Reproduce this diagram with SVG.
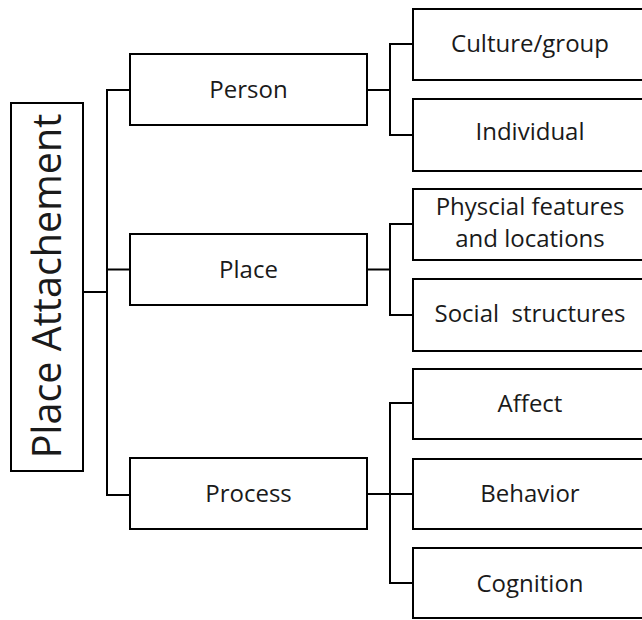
<svg xmlns="http://www.w3.org/2000/svg" width="642" height="620" viewBox="0 0 642 620">
  <style>
    .box { fill: #ffffff; stroke: #000000; stroke-width: 2; }
    .wire { fill: none; stroke: #000000; stroke-width: 2; }
    .lbl { font-family: "Open Sans", "Liberation Sans", sans-serif; font-size: 24px; fill: #1a1a1a; text-anchor: middle; white-space: pre; }
    .root { font-size: 39.5px; }
  </style>
  <rect width="642" height="620" fill="#ffffff"/>

  <!-- tree connectors -->
  <g id="connectors">
    <path class="wire" d="M83 292 H107 M130 90 H107 V495 H130 M107 269.5 H130"/>
    <path class="wire" d="M367 90 H390 M413 44 H390 V135 H413"/>
    <path class="wire" d="M367 269.5 H390 M413 224 H390 V315 H413"/>
    <path class="wire" d="M367 494 H413 M413 403 H390 V583 H413"/>
  </g>

  <!-- root -->
  <g id="place-attachement">
    <rect class="box" x="11" y="103" width="72" height="368"/>
    <text class="lbl root" transform="translate(61 286) rotate(-90)">Place Attachement</text>
  </g>

  <!-- second level -->
  <g id="person">
    <rect class="box" x="130" y="54" width="237" height="71"/>
    <text class="lbl" x="248.5" y="98">Person</text>
  </g>
  <g id="place">
    <rect class="box" x="130" y="234" width="237" height="71"/>
    <text class="lbl" x="248.5" y="278">Place</text>
  </g>
  <g id="process">
    <rect class="box" x="130" y="458" width="237" height="71"/>
    <text class="lbl" x="248.5" y="502">Process</text>
  </g>

  <!-- leaves -->
  <g id="culture-group">
    <rect class="box" x="413" y="9" width="234" height="71"/>
    <text class="lbl" x="530" y="52">Culture/group</text>
  </g>
  <g id="individual">
    <rect class="box" x="413" y="99" width="234" height="72"/>
    <text class="lbl" x="530" y="140">Individual</text>
  </g>
  <g id="physical-features">
    <rect class="box" x="413" y="189" width="234" height="71"/>
    <text class="lbl" x="530" y="215">Physcial features</text>
    <text class="lbl" x="530" y="247">and locations</text>
  </g>
  <g id="social-structures">
    <rect class="box" x="413" y="279" width="234" height="72"/>
    <text class="lbl" x="530" y="322">Social  structures</text>
  </g>
  <g id="affect">
    <rect class="box" x="413" y="369" width="234" height="70"/>
    <text class="lbl" x="530" y="412">Affect</text>
  </g>
  <g id="behavior">
    <rect class="box" x="413" y="459" width="234" height="70"/>
    <text class="lbl" x="530" y="502">Behavior</text>
  </g>
  <g id="cognition">
    <rect class="box" x="413" y="548" width="234" height="70"/>
    <text class="lbl" x="530" y="592">Cognition</text>
  </g>
</svg>
